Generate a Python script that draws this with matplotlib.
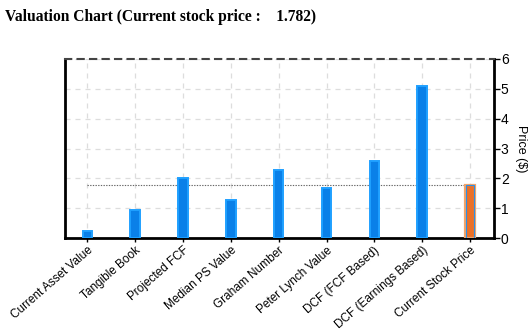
import matplotlib
matplotlib.use('Agg')
import matplotlib.pyplot as plt

# Valuation data
categories = ['Current Asset Value', 'Tangible Book', 'Projected FCF', 'Median PS Value',
              'Graham Number', 'Peter Lynch Value', 'DCF (FCF Based)',
              'DCF (Earnings Based)', 'Current Stock Price']
values = [0.24, 0.94, 2.0, 1.27, 2.27, 1.67, 2.58, 5.08, 1.782]
current_price = 1.782
y_ticks = [0, 1, 2, 3, 4, 5, 6]

plt.rcParams['font.family'] = ['Liberation Sans', 'DejaVu Sans']

fig = plt.figure(figsize=(5.31, 3.33), dpi=100)
ax = fig.add_axes([0.1224, 0.285, 0.8076, 0.538])

x = list(range(len(categories)))

# Blue bars for the valuation methods
ax.bar(x[:-1], values[:-1], width=0.2, color='#0a80e8', edgecolor='#1fa0ff',
       linewidth=1.4, zorder=3)
# Orange bar for the current price
ax.bar(x[-1], values[-1], width=0.2, color='#ea7028', edgecolor='#f3a46a',
       linewidth=1.6, zorder=3)
ax.bar(x[-1], values[-1], width=0.15, color='none', edgecolor='#2a90e8',
       linewidth=0.8, zorder=4)

# Dotted line at current price
ax.plot([x[0], x[-1]], [current_price, current_price], linestyle=(0, (1.2, 1.2)),
        color='#666666', linewidth=0.8, zorder=2)

ax.set_xlim(-0.47, 8.5)
ax.set_ylim(0, 6)
ax.set_yticks(y_ticks)
ax.yaxis.tick_right()
ax.yaxis.set_label_position('right')
ax.set_ylabel('Price ($)', rotation=-90, labelpad=13, fontsize=9)
ax.set_xticks(x)
ax.set_xticklabels(categories, rotation=41, ha='right', va='top',
                   rotation_mode='anchor', fontsize=8.5)
ax.tick_params(axis='y', labelsize=10, length=4, width=1, pad=1)
ax.tick_params(axis='x', length=3, width=1, pad=1.5)

ax.grid(True, linestyle=(0, (4, 4)), color='#dddddd', linewidth=0.9, zorder=0)
ax.set_axisbelow(True)

for side in ['left', 'bottom', 'right']:
    ax.spines[side].set_linewidth(2)
    ax.spines[side].set_color('black')
ax.spines['top'].set_linestyle((0, (3, 3)))
ax.spines['top'].set_color('#444444')
ax.spines['top'].set_linewidth(1.5)

fig.text(0.01, 0.95, 'Valuation Chart (Current stock price :    1.782)',
         fontfamily='Liberation Serif', fontweight='bold', fontsize=11.2, va='center')

fig.savefig('out.png', dpi=100)
